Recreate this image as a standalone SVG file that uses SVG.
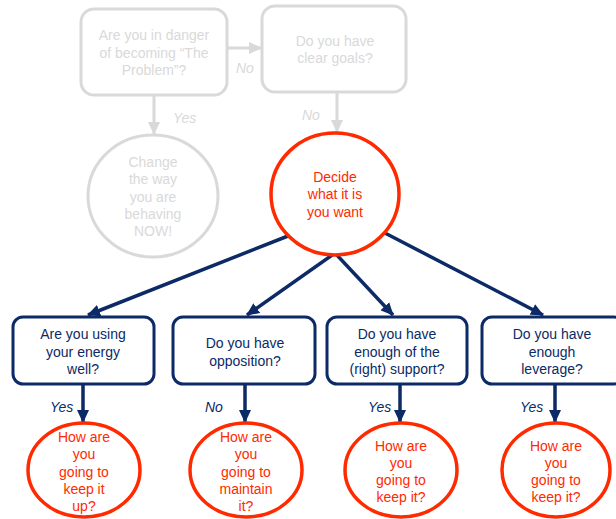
<svg xmlns="http://www.w3.org/2000/svg" width="616" height="519" viewBox="0 0 616 519">
<defs>
<marker id="ah-navy" markerUnits="userSpaceOnUse" markerWidth="13" markerHeight="12" refX="12" refY="6" orient="auto"><path d="M0,0 L13,6 L0,12 z" fill="#0b2a66"/></marker>
<marker id="ah-gray" markerUnits="userSpaceOnUse" markerWidth="13" markerHeight="12" refX="12" refY="6" orient="auto"><path d="M0,0 L13,6 L0,12 z" fill="#d9d9d9"/></marker>
</defs>
<style>
text{font-family:"Liberation Sans",Arial,sans-serif;font-size:14px;text-anchor:middle}
.gbox{fill:#fff;stroke:#d9d9d9;stroke-width:3}
.gcirc{fill:#fff;stroke:#d9d9d9;stroke-width:3}
.gt{fill:#d9d9d9}
.nbox{fill:#fff;stroke:#0b2a66;stroke-width:3}
.nt{fill:#0b2a66}
.rcirc{fill:#fff;stroke:#ff2a00;stroke-width:3.5}
.rt{fill:#ff2a00}
.lbl{font-style:italic;text-anchor:start}
.gline{stroke:#d9d9d9;stroke-width:3;fill:none;marker-end:url(#ah-gray)}
.nline{stroke:#0b2a66;stroke-width:3.5;fill:none;marker-end:url(#ah-navy)}
</style>
<g id="connectors">
<line class="gline" x1="227" y1="48" x2="261" y2="48"/>
<line class="gline" x1="154" y1="95" x2="154" y2="134"/>
<line class="gline" x1="337" y1="92" x2="337" y2="132"/>
<line class="nline" x1="288" y1="236" x2="88" y2="315"/>
<line class="nline" x1="335" y1="253" x2="247" y2="315"/>
<line class="nline" x1="335" y1="253" x2="393" y2="315"/>
<line class="nline" x1="383" y1="232" x2="543" y2="315"/>
<line class="nline" x1="83" y1="384" x2="83" y2="422"/>
<line class="nline" x1="245" y1="384" x2="245" y2="422"/>
<line class="nline" x1="400" y1="384" x2="400" y2="422"/>
<line class="nline" x1="555" y1="384" x2="555" y2="422"/>
<text class="gt lbl" x="236" y="73">No</text>
<text class="gt lbl" x="173" y="123">Yes</text>
<text class="gt lbl" x="302" y="120">No</text>
<text class="nt lbl" x="50" y="412">Yes</text>
<text class="nt lbl" x="205" y="412">No</text>
<text class="nt lbl" x="368" y="412">Yes</text>
<text class="nt lbl" x="520" y="412">Yes</text>
</g>
<g id="danger">
<rect class="gbox" x="81" y="9" width="146" height="86" rx="13"/>
<text class="gt" x="154" y="40">Are you in danger</text>
<text class="gt" x="154" y="57.5">of becoming “The</text>
<text class="gt" x="154" y="75">Problem”?</text>
</g>
<g id="goals">
<rect class="gbox" x="262" y="6" width="144" height="86" rx="13"/>
<text class="gt" x="335" y="46">Do you have</text>
<text class="gt" x="335" y="63">clear goals?</text>
</g>
<g id="change">
<ellipse class="gcirc" cx="153" cy="196" rx="65" ry="61"/>
<text class="gt" x="153" y="167">Change</text>
<text class="gt" x="153" y="184.3">the way</text>
<text class="gt" x="153" y="201.6">you are</text>
<text class="gt" x="153" y="219">behaving</text>
<text class="gt" x="153" y="236">NOW!</text>
</g>
<g id="decide">
<ellipse class="rcirc" cx="335" cy="194" rx="64" ry="61"/>
<text class="rt" x="335" y="182">Decide</text>
<text class="rt" x="335" y="199">what it is</text>
<text class="rt" x="335" y="216.5">you want</text>
</g>
<g id="energy">
<rect class="nbox" x="13" y="317" width="141" height="67" rx="10"/>
<text class="nt" x="83" y="339">Are you using</text>
<text class="nt" x="83" y="356.5">your energy</text>
<text class="nt" x="83" y="374">well?</text>
</g>
<g id="opposition">
<rect class="nbox" x="173" y="317" width="142" height="67" rx="10"/>
<text class="nt" x="245" y="348">Do you have</text>
<text class="nt" x="245" y="365.5">opposition?</text>
</g>
<g id="support">
<rect class="nbox" x="327" y="317" width="140" height="67" rx="10"/>
<text class="nt" x="397" y="339">Do you have</text>
<text class="nt" x="397" y="356.5">enough of the</text>
<text class="nt" x="397" y="374">(right) support?</text>
</g>
<g id="leverage">
<rect class="nbox" x="482" y="317" width="142" height="67" rx="10"/>
<text class="nt" x="552" y="339">Do you have</text>
<text class="nt" x="552" y="356.5">enough</text>
<text class="nt" x="552" y="374">leverage?</text>
</g>
<g id="keepup">
<ellipse class="rcirc" cx="84" cy="470" rx="56" ry="47"/>
<text class="rt" x="84" y="442">How are</text>
<text class="rt" x="84" y="459">you</text>
<text class="rt" x="84" y="476.5">going to</text>
<text class="rt" x="84" y="494">keep it</text>
<text class="rt" x="84" y="511">up?</text>
</g>
<g id="maintain">
<ellipse class="rcirc" cx="246" cy="470" rx="56" ry="47"/>
<text class="rt" x="246" y="442">How are</text>
<text class="rt" x="246" y="459">you</text>
<text class="rt" x="246" y="476.5">going to</text>
<text class="rt" x="246" y="494">maintain</text>
<text class="rt" x="246" y="511">it?</text>
</g>
<g id="keep3">
<ellipse class="rcirc" cx="401" cy="470" rx="56" ry="47"/>
<text class="rt" x="401" y="450.5">How are</text>
<text class="rt" x="401" y="468">you</text>
<text class="rt" x="401" y="485">going to</text>
<text class="rt" x="401" y="502">keep it?</text>
</g>
<g id="keep4">
<ellipse class="rcirc" cx="556" cy="470" rx="54" ry="47"/>
<text class="rt" x="556" y="450.5">How are</text>
<text class="rt" x="556" y="468">you</text>
<text class="rt" x="556" y="485">going to</text>
<text class="rt" x="556" y="502">keep it?</text>
</g>
</svg>
